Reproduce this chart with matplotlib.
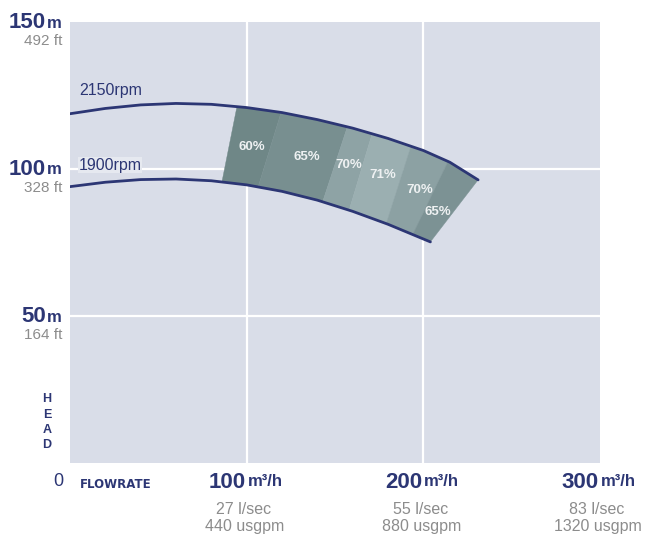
import matplotlib
matplotlib.use("Agg")
import matplotlib.pyplot as plt
import numpy as np

# pump curves (flow m3/h, head m)
flow_2150 = [0, 20, 40, 60, 80, 100, 120, 140, 160, 180, 200, 215, 231]
head_2150 = [118.8, 120.6, 121.8, 122.3, 122.0, 120.9, 119.2, 116.8, 113.9, 110.4, 106.3, 102.3, 96.3]
flow_1900 = [0, 20, 40, 60, 80, 100, 120, 140, 160, 180, 204]
head_1900 = [94.0, 95.5, 96.4, 96.6, 96.0, 94.6, 92.4, 89.4, 85.6, 81.2, 75.2]

# efficiency bands: edges on the upper and lower curve
band_top_edges = [94.5, 119.5, 157, 171, 193, 214, 231]
band_bot_edges = [86, 106.5, 143, 158, 179, 194, 204]
band_colors = ['#6f8787', '#788f90', '#8ea3a5', '#9bafb1', '#8ca1a3', '#7c9294']
eff_labels = ['60%', '65%', '70%', '71%', '70%', '65%']
eff_label_x = [103, 134, 158, 177, 198, 208]
eff_label_y = [107.6, 104.1, 101.4, 98.0, 92.9, 85.4]

head_ticks = [150, 100, 50]
head_ft = ['492 ft', '328 ft', '164 ft']
flow_ticks = [100, 200, 300]
flow_ls = ['27 l/sec', '55 l/sec', '83 l/sec']
flow_gpm = ['440 usgpm', '880 usgpm', '1320 usgpm']

NAVY = '#2c3674'
GREY = '#8c8c8c'
FONT = ['Liberation Sans', 'DejaVu Sans']
plt.rcParams['font.family'] = FONT

fig = plt.figure(figsize=(6.5, 5.36), dpi=100)
ax = fig.add_axes([70 / 650, 73 / 536, 530 / 650, 441 / 536])
ax.set_facecolor('#d9dde8')
ax.set_xlim(0, 300)
ax.set_ylim(0, 150)
for s in ax.spines.values():
    s.set_visible(False)
ax.set_xticks([])
ax.set_yticks([])
for v in [100, 200]:
    ax.axvline(v, color='white', lw=1.6, zorder=1)
for v in [50, 100]:
    ax.axhline(v, color='white', lw=1.6, zorder=1)


def curve_part(fl, hd, a, b):
    fl = np.array(fl)
    xs = np.concatenate([[a], fl[(fl > a) & (fl < b)], [b]])
    return xs, np.interp(xs, fl, hd)


for i in range(len(band_colors)):
    tx, ty = curve_part(flow_2150, head_2150, band_top_edges[i], band_top_edges[i + 1])
    bx, by = curve_part(flow_1900, head_1900, band_bot_edges[i], band_bot_edges[i + 1])
    px = np.concatenate([tx, bx[::-1]])
    py = np.concatenate([ty, by[::-1]])
    ax.fill(px, py, color=band_colors[i], lw=0.3, ec=band_colors[i], zorder=2)

for lab, x, y in zip(eff_labels, eff_label_x, eff_label_y):
    ax.text(x, y, lab, color='#eef1f2', fontsize=9.5, fontweight='bold',
            ha='center', va='center', zorder=4)

ax.plot(flow_2150, head_2150, color=NAVY, lw=2, zorder=3, solid_capstyle='round')
ax.plot(flow_1900, head_1900, color=NAVY, lw=2, zorder=3, solid_capstyle='round')
ax.text(5, 126.7, '2150rpm', color=NAVY, fontsize=11.5, va='center')
ax.text(5, 101.3, '1900rpm', color=NAVY, fontsize=11.5, va='center',
        bbox=dict(fc='#e6e9f0', ec='none', pad=0.5))

# head labels
px2pt = 0.72
for v, ft in zip(head_ticks, head_ft):
    ax.annotate(str(v), xy=(0, v), xycoords=('axes fraction', 'data'),
                xytext=(-24 * px2pt, -1 * px2pt), textcoords='offset points',
                ha='right', va='center', fontsize=16, fontweight='bold',
                color=NAVY, annotation_clip=False)
    ax.annotate('m', xy=(0, v), xycoords=('axes fraction', 'data'),
                xytext=(-23 * px2pt, -1 * px2pt), textcoords='offset points',
                ha='left', va='center', fontsize=12, fontweight='bold',
                color=NAVY, annotation_clip=False)
    ax.annotate(ft, xy=(0, v), xycoords=('axes fraction', 'data'),
                xytext=(-8 * px2pt, -19 * px2pt), textcoords='offset points',
                ha='right', va='center', fontsize=11, color=GREY,
                annotation_clip=False)

for k, ch in enumerate('HEAD'):
    fig.text(47 / 650, 1 - (399 + k * 15.5) / 536, ch, color=NAVY, fontsize=9,
             fontweight='bold', ha='center', va='center')

fig.text(58 / 650, 1 - 482 / 536, '0', color=NAVY, fontsize=13,
         ha='center', va='center')
fig.text(80 / 650, 1 - 484 / 536, 'FLOWRATE', color=NAVY, fontsize=8.5,
         fontweight='bold', family='DejaVu Sans', ha='left', va='center')

# flow labels
for v, ls, gpm in zip(flow_ticks, flow_ls, flow_gpm):
    ax.annotate(str(v), xy=(v, 0), xycoords=('data', 'axes fraction'),
                xytext=(-1 * px2pt, -19 * px2pt), textcoords='offset points',
                ha='right', va='center', fontsize=16, fontweight='bold',
                color=NAVY, annotation_clip=False)
    ax.annotate('m\u00b3/h', xy=(v, 0), xycoords=('data', 'axes fraction'),
                xytext=(1 * px2pt, -19 * px2pt), textcoords='offset points',
                ha='left', va='center', fontsize=12, fontweight='bold',
                color=NAVY, annotation_clip=False)
    ax.annotate(ls, xy=(v, 0), xycoords=('data', 'axes fraction'),
                xytext=(-3 * px2pt, -46 * px2pt), textcoords='offset points',
                ha='center', va='center', fontsize=11.5, color=GREY,
                annotation_clip=False)
    ax.annotate(gpm, xy=(v, 0), xycoords=('data', 'axes fraction'),
                xytext=(-2 * px2pt, -64 * px2pt), textcoords='offset points',
                ha='center', va='center', fontsize=11.5, color=GREY,
                annotation_clip=False)

fig.savefig('out.png', dpi=100, facecolor='white')
